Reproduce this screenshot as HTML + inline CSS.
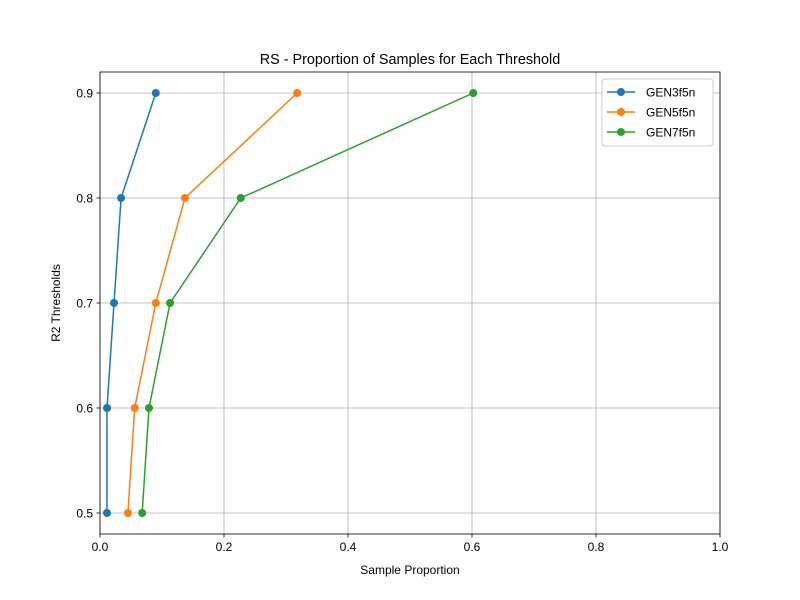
<!DOCTYPE html>
<html><head><meta charset="utf-8"><style>
body{margin:0;background:#fff}
svg{display:block;font-family:"Liberation Sans","DejaVu Sans",sans-serif}
</style></head><body>
<svg id="chart" width="800" height="600" xmlns="http://www.w3.org/2000/svg">
<rect width="800" height="600" fill="#fff"/>
<g id="grid"></g>
<g id="series"></g>
<g id="axes"></g>
</svg>
<script>
const thresholds = [0.5, 0.6, 0.7, 0.8, 0.9];
const gen3 = [0.0113, 0.0113, 0.0226, 0.034, 0.090];
const gen5 = [0.045, 0.056, 0.090, 0.137, 0.318];
const gen7 = [0.068, 0.079, 0.113, 0.227, 0.602];
const seriesNames = ["GEN3f5n", "GEN5f5n", "GEN7f5n"];
const xTicks = [0, 0.2, 0.4, 0.6, 0.8, 1.0];
const xTickLabels = ["0.0", "0.2", "0.4", "0.6", "0.8", "1.0"];
const yTicks = [0.5, 0.6, 0.7, 0.8, 0.9];
const yTickLabels = ["0.5", "0.6", "0.7", "0.8", "0.9"];

const L=100,R=720,T=72,B=534, xmin=0,xmax=1,ymin=0.48,ymax=0.92;
const xs=v=>L+(v-xmin)/(xmax-xmin)*(R-L);
const ys=v=>B-(v-ymin)/(ymax-ymin)*(B-T);
const NS="http://www.w3.org/2000/svg";
function mk(tag,attrs,parent,text){const e=document.createElementNS(NS,tag);for(const k in attrs)e.setAttribute(k,attrs[k]);if(text!==undefined)e.textContent=text;parent.appendChild(e);return e;}
const grid=document.getElementById('grid'),ser=document.getElementById('series'),ax=document.getElementById('axes');

xTicks.forEach((t,i)=>{
  const g=mk('line',{x1:xs(t),x2:xs(t),y1:T,y2:B,stroke:'#b0b0b0','stroke-width':0.8},grid);
  
  
  mk('line',{x1:xs(t),x2:xs(t),y1:B,y2:B+3.5,stroke:'#000','stroke-width':0.8},ax);
  const l=mk('text',{x:xs(t),y:B+17,'text-anchor':'middle','font-size':12},ax,xTickLabels[i]);
  
  
});
yTicks.forEach((t,i)=>{
  const g=mk('line',{x1:L,x2:R,y1:ys(t),y2:ys(t),stroke:'#b0b0b0','stroke-width':0.8},grid);
  
  
  mk('line',{x1:L-3.5,x2:L,y1:ys(t),y2:ys(t),stroke:'#000','stroke-width':0.8},ax);
  const l=mk('text',{x:L-7,y:ys(t)+4.5,'text-anchor':'end','font-size':12},ax,yTickLabels[i]);
  
  
});
const colors=['#1f77b4','#ff7f0e','#2ca02c'];
[gen3,gen5,gen7].forEach((d,si)=>{
  const pts=d.map((v,i)=>xs(v)+','+ys(thresholds[i])).join(' ');
  const pl=mk('polyline',{points:pts,fill:'none',stroke:colors[si],'stroke-width':1.5},ser);
  
  
  d.forEach((v,i)=>{
    const c=mk('circle',{cx:xs(v),cy:ys(thresholds[i]),r:4,fill:colors[si]},ser);
    
    
  });
});
const frame=mk('rect',{x:L,y:T,width:R-L,height:B-T,fill:'none',stroke:'#000','stroke-width':0.8},ax);


const title=mk('text',{x:(L+R)/2,y:64,'text-anchor':'middle','font-size':14.4},ax,'RS - Proportion of Samples for Each Threshold');


const xt=mk('text',{x:(L+R)/2,y:574,'text-anchor':'middle','font-size':12},ax,'Sample Proportion');


const yt=mk('text',{x:60,y:(T+B)/2,'text-anchor':'middle','font-size':12,transform:`rotate(-90 60 ${(T+B)/2})`},ax,'R2 Thresholds');


const lg=mk('g',{},ax);


mk('rect',{x:602,y:79,width:111,height:67,rx:3,fill:'#fff',stroke:'#ccc','stroke-width':1},lg);
seriesNames.forEach((n,i)=>{
  const y=92+i*20;
  const e=mk('g',{},lg);
  
  
  mk('line',{x1:607,x2:635,y1:y,y2:y,stroke:colors[i],'stroke-width':1.5},e);
  mk('circle',{cx:621,cy:y,r:4,fill:colors[i]},e);
  mk('text',{x:646,y:y+4.5,'font-size':12},e,n);
});
</script>
</body></html>
